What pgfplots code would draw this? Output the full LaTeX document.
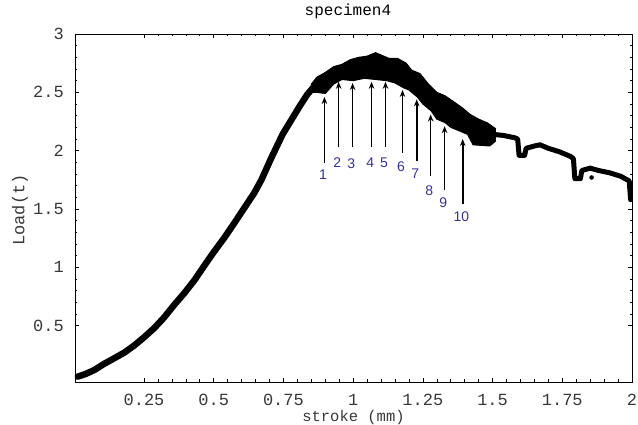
\documentclass[border=0pt]{standalone}
\usepackage{fontspec}
\setmainfont{Liberation Mono}
\newfontfamily\numfont{Liberation Sans}
\usepackage{pgfplots}
\pgfplotsset{compat=1.18}
\usetikzlibrary{arrows.meta}
\definecolor{numblue}{RGB}{51,51,153}
\definecolor{ticktext}{RGB}{55,55,55}

\begin{document}
\begin{tikzpicture}
\begin{axis}[
  at={(0,0)}, anchor=south west,
  scale only axis, width=557pt, height=348pt,
  xmin=0.0025, xmax=2, ymin=0.017, ymax=3,
  xtick={0.25,0.5,0.75,1,1.25,1.5,1.75,2},
  xticklabels={0.25,0.5,0.75,1,1.25,1.5,1.75,2},
  ytick={0.5,1,1.5,2,2.5,3},
  yticklabels={0.5,1,1.5,2,2.5,3},
  minor x tick num=4, minor y tick num=4,
  xtick pos=both, ytick pos=both,
  tick align=inside, major tick length=4pt, minor tick length=2.5pt,
  tick style={black, line width=0.6pt},
  axis line style={line width=0.8pt},
  tick label style={font=\fontsize{17}{17}\selectfont, color=ticktext, inner sep=0pt},
  xticklabel style={anchor=base, yshift=-24pt},
  yticklabel style={anchor=east, xshift=-11pt},
  title={specimen4},
  title style={font=\fontsize{16}{16}\selectfont, at={(axis description cs:0.49,1)}, anchor=base, yshift=12pt, inner sep=0pt},
  xlabel={stroke (mm)},
  xlabel style={font=\fontsize{15.5}{15.5}\selectfont, color=ticktext, at={(axis description cs:0.5,0)}, anchor=base, yshift=-39.5pt, inner sep=0pt},
  ylabel={Load(t)},
  ylabel style={font=\fontsize{17}{17}\selectfont, color=ticktext, at={(axis description cs:-0.0987,0.494)}, anchor=center, inner sep=0pt},
]
% rising part of the curve
\addplot[black, line width=6.5pt, line join=round, line cap=round] coordinates {
  (0.012,0.063) (0.040,0.085) (0.072,0.12) (0.105,0.17) (0.143,0.22)
  (0.180,0.27) (0.215,0.33) (0.250,0.40) (0.287,0.48) (0.322,0.57)
  (0.359,0.68) (0.395,0.78) (0.431,0.89) (0.465,1.01) (0.500,1.13)
  (0.537,1.25) (0.574,1.38) (0.610,1.51) (0.646,1.64) (0.671,1.75)
  (0.705,1.93) (0.747,2.14) (0.780,2.27) (0.808,2.38) (0.835,2.48)
  (0.860,2.55)
};
% broad band around the peak
\addplot[black, fill=black, line width=1pt, line join=round] coordinates {
  (0.85,2.57) (0.87,2.63) (0.90,2.67) (0.93,2.72) (0.96,2.74)
  (0.99,2.78) (1.02,2.80) (1.05,2.81) (1.08,2.84) (1.10,2.82)
  (1.13,2.79) (1.16,2.79) (1.19,2.75) (1.21,2.69) (1.24,2.66)
  (1.27,2.57) (1.30,2.50) (1.33,2.47) (1.36,2.42) (1.39,2.37)
  (1.42,2.31) (1.45,2.27) (1.48,2.24) (1.51,2.19)
  (1.51,2.08) (1.49,2.04) (1.43,2.05) (1.41,2.14) (1.38,2.17)
  (1.35,2.20) (1.33,2.24) (1.30,2.27) (1.28,2.34) (1.25,2.40)
  (1.23,2.46) (1.20,2.52) (1.18,2.54) (1.15,2.58) (1.12,2.60)
  (1.08,2.61) (1.04,2.62) (1.00,2.60) (0.96,2.61) (0.93,2.57)
  (0.90,2.49) (0.87,2.50) (0.85,2.50)
} --cycle;
% tail
\addplot[black, line width=5pt, line join=round, line cap=round] coordinates {
  (1.50,2.14) (1.54,2.13) (1.58,2.11) (1.59,2.10) (1.595,1.96)
  (1.615,1.96) (1.62,2.02) (1.65,2.04) (1.67,2.05) (1.70,2.02)
  (1.74,1.99) (1.78,1.95) (1.79,1.93) (1.795,1.76) (1.815,1.76)
  (1.82,1.83) (1.85,1.85) (1.88,1.83) (1.92,1.81) (1.96,1.78)
  (1.99,1.74) (1.995,1.58)
};
\addplot[only marks, mark=*, mark size=2pt, black] coordinates {(1.855,1.77)};

% numbered arrows
\foreach \x/\tip/\tail/\ly/\n in {
  0.897/2.46/1.89/1.79/1, 0.948/2.59/2.03/1.90/2, 0.998/2.58/2.03/1.89/3,
  1.066/2.59/2.03/1.90/4, 1.116/2.59/2.03/1.90/5, 1.177/2.52/1.98/1.86/6,
  1.228/2.44/1.91/1.80/7, 1.278/2.31/1.78/1.66/8, 1.328/2.21/1.66/1.55/9,
  1.393/2.10/1.54/1.43/10} {
  \edef\temp{\noexpand\draw[-{Stealth[length=7pt,width=5.5pt]}, line width=1.6pt]
    (axis cs:\x,\tail) -- (axis cs:\x,\tip);
    \noexpand\node[numblue, font=\noexpand\numfont\noexpand\fontsize{14}{14}\noexpand\selectfont, inner sep=0pt]
    at (axis cs:\x-0.005,\ly) {\n};}
  \temp
}
\end{axis}
\pgfresetboundingbox
\path (-75pt,-43pt) rectangle (563pt,382pt);
\end{tikzpicture}
\end{document}
